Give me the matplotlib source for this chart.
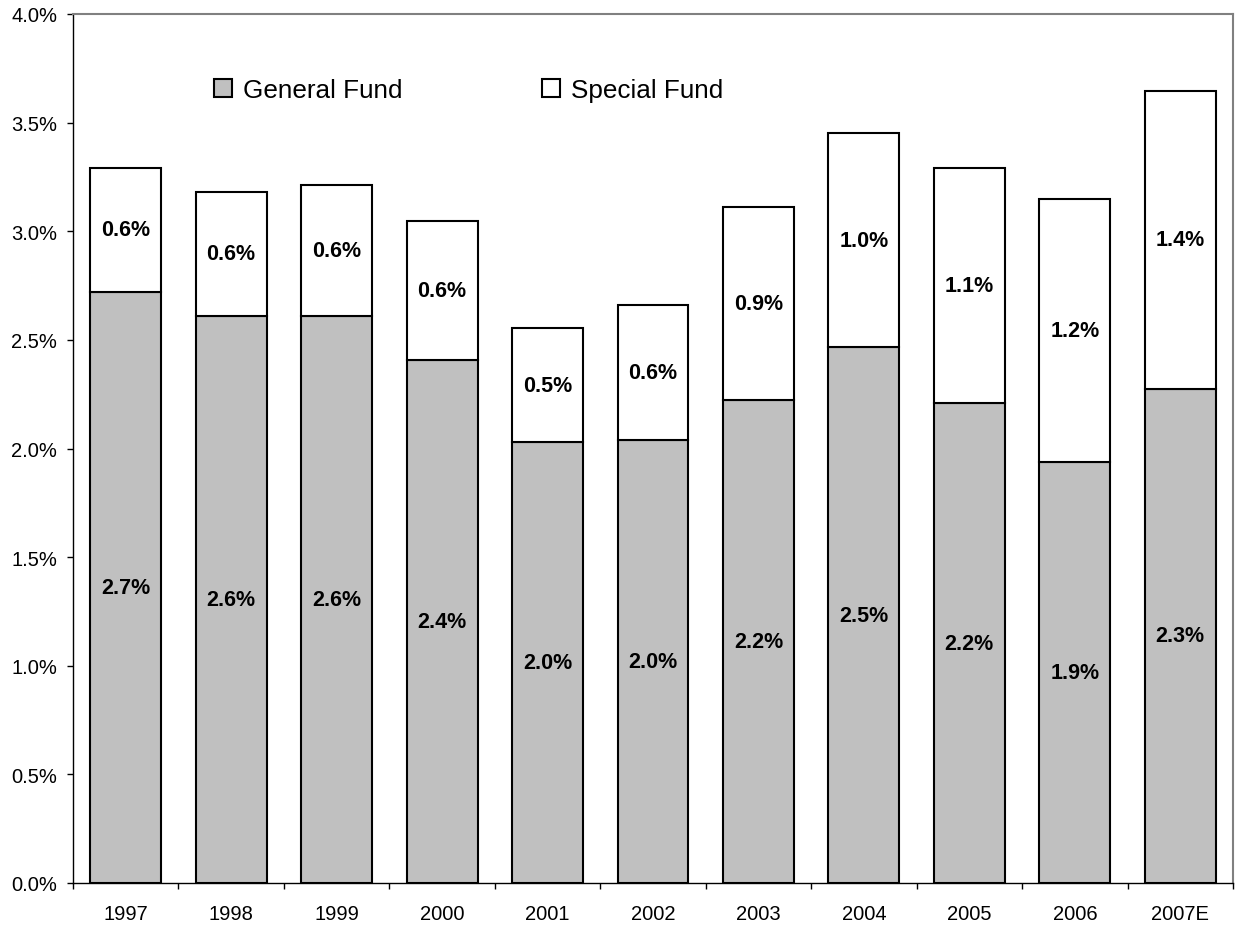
import matplotlib
matplotlib.use("Agg")
import matplotlib.pyplot as plt
from matplotlib.ticker import FuncFormatter, FixedLocator
import numpy as np

plt.rcParams['font.family'] = ['Liberation Sans', 'DejaVu Sans']

years = ["1997", "1998", "1999", "2000", "2001", "2002", "2003", "2004", "2005", "2006", "2007E"]
general_fund = [2.722, 2.611, 2.611, 2.407, 2.028, 2.039, 2.224, 2.465, 2.209, 1.936, 2.274]
special_fund = [0.569, 0.571, 0.602, 0.638, 0.528, 0.623, 0.889, 0.987, 1.084, 1.212, 1.372]
general_labels = ["2.7%", "2.6%", "2.6%", "2.4%", "2.0%", "2.0%", "2.2%", "2.5%", "2.2%", "1.9%", "2.3%"]
special_labels = ["0.6%", "0.6%", "0.6%", "0.6%", "0.5%", "0.6%", "0.9%", "1.0%", "1.1%", "1.2%", "1.4%"]
yticks = [0.0, 0.5, 1.0, 1.5, 2.0, 2.5, 3.0, 3.5, 4.0]

fig = plt.figure(figsize=(12.35, 9.29), dpi=100)
ax = fig.add_axes([73/1235, 45/929, 1160/1235, 869/929])

x = np.arange(len(years))
w = 0.673
ax.bar(x, general_fund, w, color="#C0C0C0", edgecolor="black", linewidth=1.5,
       label="General Fund", zorder=2)
ax.bar(x, special_fund, w, bottom=general_fund, color="white", edgecolor="black",
       linewidth=1.5, label="Special Fund", zorder=2)

for i in range(len(years)):
    ax.text(x[i], general_fund[i] / 2, general_labels[i], ha="center", va="center",
            fontsize=15.5, fontweight="bold", zorder=3)
    ax.text(x[i], general_fund[i] + special_fund[i] / 2, special_labels[i], ha="center",
            va="center", fontsize=15.5, fontweight="bold", zorder=3)

ax.set_xlim(-0.5, len(years) - 0.5)
ax.set_ylim(0, 4.0)
ax.set_yticks(yticks)
ax.yaxis.set_major_formatter(FuncFormatter(lambda v, p: f"{v:.1f}%"))
ax.tick_params(axis="y", direction="out", length=4.5, width=1, labelsize=14.5, pad=7)

ax.set_xticks(x)
ax.set_xticklabels(years)
ax.tick_params(axis="x", which="major", length=0, labelsize=14.5, pad=15)
ax.xaxis.set_minor_locator(FixedLocator(np.arange(-0.5, len(years), 1.0)))
ax.tick_params(axis="x", which="minor", direction="out", length=4.5, width=1)

for s in ["left", "bottom"]:
    ax.spines[s].set_color("black")
    ax.spines[s].set_linewidth(1.0)
for s in ["top", "right"]:
    ax.spines[s].set_color("#808080")
    ax.spines[s].set_linewidth(1.5)

ax.legend(loc="center left", bbox_to_anchor=((214 - 73) / 1160, (884 - 91) / 869),
          ncol=2, frameon=False, fontsize=18.8, handlelength=0.68, handleheight=0.68,
          handletextpad=0.42, columnspacing=5.35, borderaxespad=0, borderpad=0)

fig.savefig("out.png", dpi=100)
